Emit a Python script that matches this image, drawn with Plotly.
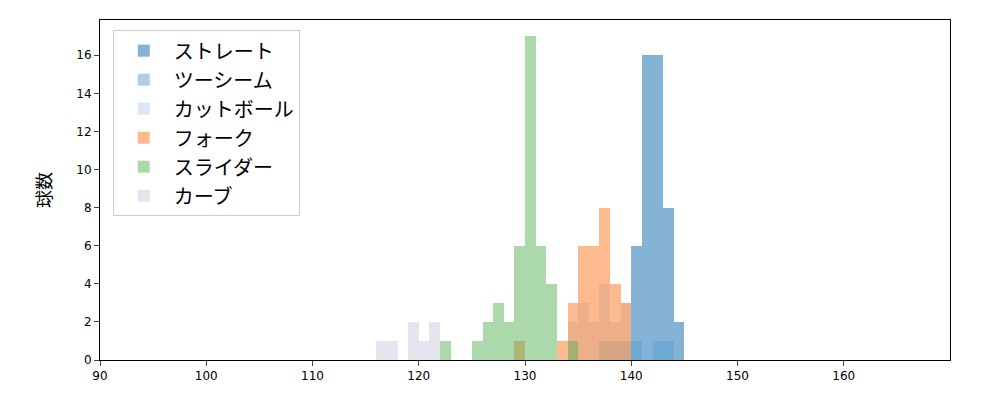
import plotly.graph_objects as go

# bin start (km/h) and counts, bin width 1
straight_x = [140, 141, 142, 143, 144]
straight_y = [6, 16, 16, 8, 2]
twoseam_x = [137, 138, 139, 140, 142, 143]
twoseam_y = [1, 1, 1, 1, 1, 1]
cutter_x = [134, 135, 136, 137, 138, 139]
cutter_y = [2, 3, 2, 4, 2, 3]
fork_x = [129, 133, 134, 135, 136, 137, 138, 139]
fork_y = [1, 1, 3, 6, 6, 8, 4, 3]
slider_x = [122, 125, 126, 127, 128, 129, 130, 131, 132, 134]
slider_y = [1, 1, 2, 3, 2, 6, 17, 6, 4, 1]
curve_x = [116, 117, 119, 120, 121]
curve_y = [1, 1, 2, 1, 2]

series = [
    ("ストレート", straight_x, straight_y, "#0d6aad"),
    ("ツーシーム", twoseam_x, twoseam_y, "#5ba3d6"),
    ("カットボール", cutter_x, cutter_y, "#b8d2ea"),
    ("フォーク", fork_x, fork_y, "#fd7820"),
    ("スライダー", slider_x, slider_y, "#5ab45a"),
    ("カーブ", curve_x, curve_y, "#cdcde1"),
]

fig = go.Figure()
for name, xs, ys, col in series:
    fig.add_trace(go.Bar(name=name, x=[v + 0.5 for v in xs], y=ys, width=1,
                         marker=dict(color=col, line=dict(width=0)), opacity=0.5))

fig.update_layout(
    width=1000, height=400, barmode="overlay", bargap=0, plot_bgcolor="white", paper_bgcolor="white",
    margin=dict(l=92, r=58, t=12, b=48),
    font=dict(family="Noto Sans CJK JP", color="black"),
    legend=dict(x=0.015, y=0.97, xanchor="left", yanchor="top", font=dict(size=20),
                bordercolor="#cccccc", borderwidth=1, bgcolor="rgba(255,255,255,0.8)",
                itemwidth=50),
    xaxis=dict(range=[90, 170], tickvals=[90, 100, 110, 120, 130, 140, 150, 160],
               showline=True, linecolor="black", mirror=True, ticks="outside", automargin=False,
               tickfont=dict(size=12, family="DejaVu Sans"), showgrid=False, zeroline=False),
    yaxis=dict(range=[0, 17.85], tickvals=list(range(0, 17, 2)), automargin=False,
               showline=True, linecolor="black", mirror=True, ticks="outside",
               tickfont=dict(size=12, family="DejaVu Sans"), showgrid=False, zeroline=False,
               title=dict(text="球数", font=dict(size=18), standoff=20)),
)

fig.write_html("out.html")
